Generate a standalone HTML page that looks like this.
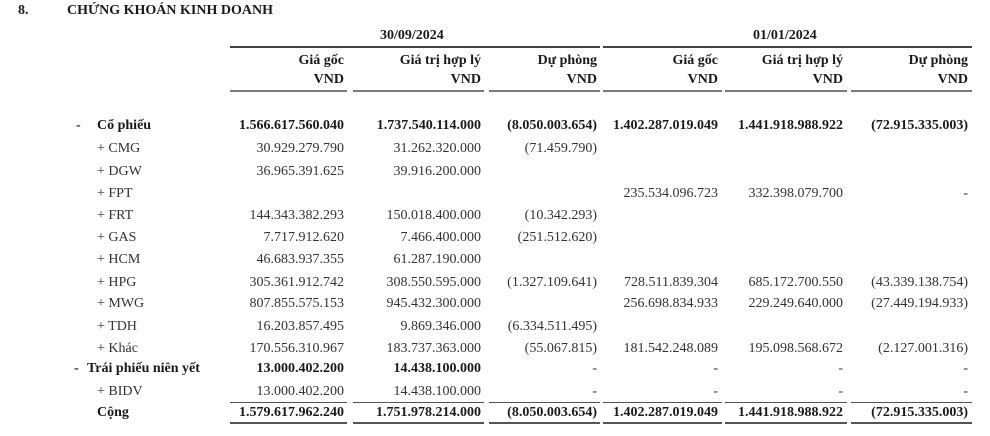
<!DOCTYPE html>
<html><head><meta charset="utf-8">
<style>
html,body{margin:0;padding:0;background:#fff;}
body{width:990px;height:436px;position:relative;overflow:hidden;font-family:"Liberation Serif","DejaVu Serif",serif;font-size:14px;color:#333;}
.t{position:absolute;line-height:16px;white-space:nowrap;}
.b{font-weight:bold;color:#1a1a1a;}
.ln{position:absolute;height:1px;background:#555;}
.ln2{position:absolute;height:2px;background:#555;}
.lh{position:absolute;height:2px;background:#7a7a7a;}
.c1{right:646px}.c2{right:509px}.c3{right:393px}.c4{right:272px}.c5{right:147px}.c6{right:22px}
</style></head><body>
<div class="t b" style="left:18px;top:3px;">8.</div>
<div class="t b" style="left:67px;top:3px;">CHỨNG KHOÁN KINH DOANH</div>

<div class="t b" style="left:380px;top:28px;">30/09/2024</div>
<div class="t b" style="left:753px;top:28px;">01/01/2024</div>
<div class="ln2" style="left:230px;width:370px;top:46px;background:#444;"></div>
<div class="ln2" style="left:603px;width:369px;top:46px;background:#444;"></div>

<div class="t b c1" style="top:53px;">Giá gốc</div>
<div class="t b c2" style="top:53px;">Giá trị hợp lý</div>
<div class="t b c3" style="top:53px;">Dự phòng</div>
<div class="t b c4" style="top:53px;">Giá gốc</div>
<div class="t b c5" style="top:53px;">Giá trị hợp lý</div>
<div class="t b c6" style="top:53px;">Dự phòng</div>
<div class="t b c1" style="top:72px;">VND</div>
<div class="t b c2" style="top:72px;">VND</div>
<div class="t b c3" style="top:72px;">VND</div>
<div class="t b c4" style="top:72px;">VND</div>
<div class="t b c5" style="top:72px;">VND</div>
<div class="t b c6" style="top:72px;">VND</div>
<div class="lh" style="left:230px;width:117px;top:90px;"></div>
<div class="lh" style="left:353px;width:131px;top:90px;"></div>
<div class="lh" style="left:489px;width:111px;top:90px;"></div>
<div class="lh" style="left:603px;width:119px;top:90px;"></div>
<div class="lh" style="left:725px;width:122px;top:90px;"></div>
<div class="lh" style="left:851px;width:121px;top:90px;"></div>

<div class="t b" style="left:76px;top:118px;">-</div>
<div class="t b" style="left:97px;top:118px;">Cổ phiếu</div>
<div class="t b c1" style="top:118px;">1.566.617.560.040</div>
<div class="t b c2" style="top:118px;">1.737.540.114.000</div>
<div class="t b c3" style="top:118px;">(8.050.003.654)</div>
<div class="t b c4" style="top:118px;">1.402.287.019.049</div>
<div class="t b c5" style="top:118px;">1.441.918.988.922</div>
<div class="t b c6" style="top:118px;">(72.915.335.003)</div>

<div class="t" style="left:97px;top:141px;">+ CMG</div>
<div class="t c1" style="top:141px;">30.929.279.790</div>
<div class="t c2" style="top:141px;">31.262.320.000</div>
<div class="t c3" style="top:141px;">(71.459.790)</div>

<div class="t" style="left:97px;top:164px;">+ DGW</div>
<div class="t c1" style="top:164px;">36.965.391.625</div>
<div class="t c2" style="top:164px;">39.916.200.000</div>

<div class="t" style="left:97px;top:186px;">+ FPT</div>
<div class="t c4" style="top:186px;">235.534.096.723</div>
<div class="t c5" style="top:186px;">332.398.079.700</div>
<div class="t c6" style="top:186px;">-</div>

<div class="t" style="left:97px;top:208px;">+ FRT</div>
<div class="t c1" style="top:208px;">144.343.382.293</div>
<div class="t c2" style="top:208px;">150.018.400.000</div>
<div class="t c3" style="top:208px;">(10.342.293)</div>

<div class="t" style="left:97px;top:230px;">+ GAS</div>
<div class="t c1" style="top:230px;">7.717.912.620</div>
<div class="t c2" style="top:230px;">7.466.400.000</div>
<div class="t c3" style="top:230px;">(251.512.620)</div>

<div class="t" style="left:97px;top:252px;">+ HCM</div>
<div class="t c1" style="top:252px;">46.683.937.355</div>
<div class="t c2" style="top:252px;">61.287.190.000</div>

<div class="t" style="left:97px;top:275px;">+ HPG</div>
<div class="t c1" style="top:275px;">305.361.912.742</div>
<div class="t c2" style="top:275px;">308.550.595.000</div>
<div class="t c3" style="top:275px;">(1.327.109.641)</div>
<div class="t c4" style="top:275px;">728.511.839.304</div>
<div class="t c5" style="top:275px;">685.172.700.550</div>
<div class="t c6" style="top:275px;">(43.339.138.754)</div>

<div class="t" style="left:97px;top:296px;">+ MWG</div>
<div class="t c1" style="top:296px;">807.855.575.153</div>
<div class="t c2" style="top:296px;">945.432.300.000</div>
<div class="t c4" style="top:296px;">256.698.834.933</div>
<div class="t c5" style="top:296px;">229.249.640.000</div>
<div class="t c6" style="top:296px;">(27.449.194.933)</div>

<div class="t" style="left:97px;top:319px;">+ TDH</div>
<div class="t c1" style="top:319px;">16.203.857.495</div>
<div class="t c2" style="top:319px;">9.869.346.000</div>
<div class="t c3" style="top:319px;">(6.334.511.495)</div>

<div class="t" style="left:97px;top:341px;">+ Khác</div>
<div class="t c1" style="top:341px;">170.556.310.967</div>
<div class="t c2" style="top:341px;">183.737.363.000</div>
<div class="t c3" style="top:341px;">(55.067.815)</div>
<div class="t c4" style="top:341px;">181.542.248.089</div>
<div class="t c5" style="top:341px;">195.098.568.672</div>
<div class="t c6" style="top:341px;">(2.127.001.316)</div>

<div class="t b" style="left:74px;top:361px;">-</div>
<div class="t b" style="left:87px;top:361px;">Trái phiếu niên yết</div>
<div class="t b c1" style="top:361px;">13.000.402.200</div>
<div class="t b c2" style="top:361px;">14.438.100.000</div>
<div class="t c3" style="top:361px;">-</div>
<div class="t c4" style="top:361px;">-</div>
<div class="t c5" style="top:361px;">-</div>
<div class="t c6" style="top:361px;">-</div>

<div class="t" style="left:97px;top:384px;">+ BIDV</div>
<div class="t c1" style="top:384px;">13.000.402.200</div>
<div class="t c2" style="top:384px;">14.438.100.000</div>
<div class="t c3" style="top:384px;">-</div>
<div class="t c4" style="top:384px;">-</div>
<div class="t c5" style="top:384px;">-</div>
<div class="t c6" style="top:384px;">-</div>

<div class="ln" style="left:230px;width:117px;top:402px;"></div>
<div class="ln" style="left:353px;width:131px;top:402px;"></div>
<div class="ln" style="left:489px;width:111px;top:402px;"></div>
<div class="ln" style="left:603px;width:119px;top:402px;"></div>
<div class="ln" style="left:725px;width:122px;top:402px;"></div>
<div class="ln" style="left:851px;width:121px;top:402px;"></div>

<div class="t b" style="left:97px;top:405px;">Cộng</div>
<div class="t b c1" style="top:405px;">1.579.617.962.240</div>
<div class="t b c2" style="top:405px;">1.751.978.214.000</div>
<div class="t b c3" style="top:405px;">(8.050.003.654)</div>
<div class="t b c4" style="top:405px;">1.402.287.019.049</div>
<div class="t b c5" style="top:405px;">1.441.918.988.922</div>
<div class="t b c6" style="top:405px;">(72.915.335.003)</div>

<div class="ln2" style="left:230px;width:117px;top:422px;"></div>
<div class="ln2" style="left:353px;width:131px;top:422px;"></div>
<div class="ln2" style="left:489px;width:111px;top:422px;"></div>
<div class="ln2" style="left:603px;width:119px;top:422px;"></div>
<div class="ln2" style="left:725px;width:122px;top:422px;"></div>
<div class="ln2" style="left:851px;width:121px;top:422px;"></div>
</body></html>
